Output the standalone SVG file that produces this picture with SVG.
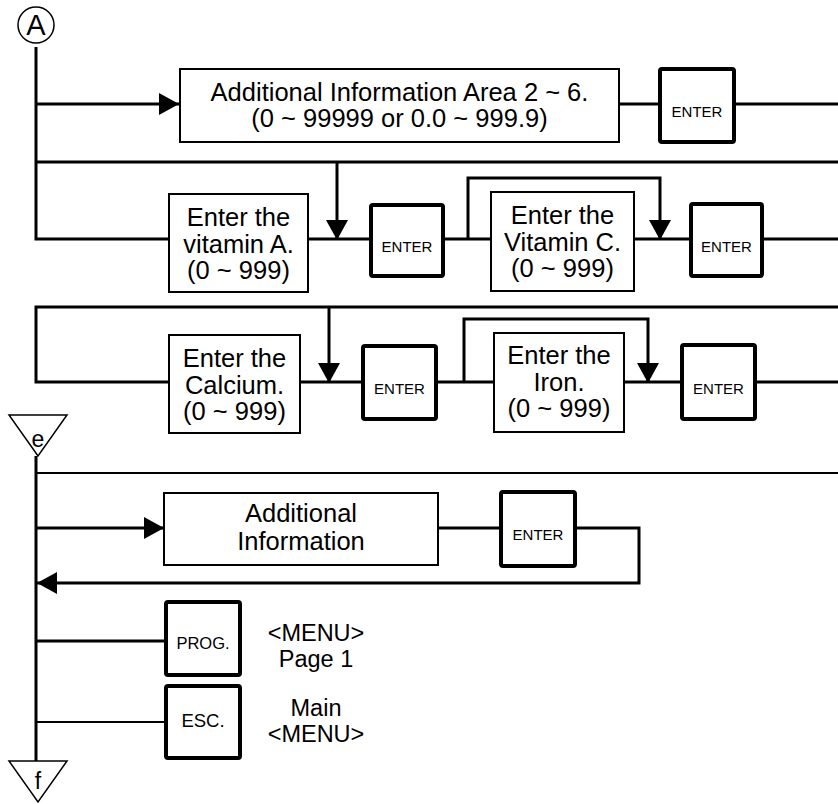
<svg xmlns="http://www.w3.org/2000/svg" width="838" height="804" viewBox="0 0 838 804">
<style>
  .bg { fill: #ffffff; }
  .box { fill: #ffffff; stroke: #000; stroke-width: 2; }
  .key { fill: #ffffff; stroke: #000; stroke-width: 4; }
  .ln { fill: none; stroke: #000; stroke-width: 3; }
  .thin { fill: none; stroke: #000; stroke-width: 2; }
  .sym { fill: #ffffff; stroke: #000; stroke-width: 1.5; }
  text { font-family: "Liberation Sans", Arial, sans-serif; fill: #000; text-anchor: middle; }
  .t { font-size: 25.5px; }
  .m { font-size: 23.5px; }
  .k { font-size: 15px; }
</style>
<defs>
  <marker id="ah" viewBox="0 0 20 22" markerUnits="userSpaceOnUse" markerWidth="20" markerHeight="22" refX="20" refY="11" orient="auto">
    <path d="M0,0 L20,11 L0,22 Z" fill="#000"/>
  </marker>
</defs>
<rect class="bg" x="0" y="0" width="838" height="804"/>

<g id="connectors">
  <path class="ln" d="M36,47 V239 H169"/>
  <path class="ln" d="M36,104 H179" marker-end="url(#ah)"/>
  <path class="ln" d="M619,104 H660"/>
  <path class="ln" d="M734,104 H838"/>
  <path class="ln" d="M36,162 H838"/>
  <path class="ln" d="M337,162 V240" marker-end="url(#ah)"/>
  <path class="ln" d="M308,239 H371"/>
  <path class="ln" d="M443,239 H491"/>
  <path class="ln" d="M468,239 V178 H660 V240" marker-end="url(#ah)"/>
  <path class="ln" d="M634,239 H691"/>
  <path class="ln" d="M762,239 H838"/>
  <path class="ln" d="M838,307 H36 V382 H169"/>
  <path class="ln" d="M329,307 V383" marker-end="url(#ah)"/>
  <path class="ln" d="M300,382 H363"/>
  <path class="ln" d="M436,382 H494"/>
  <path class="ln" d="M464,382 V319 H648 V383" marker-end="url(#ah)"/>
  <path class="ln" d="M624,382 H682"/>
  <path class="ln" d="M755,382 H838"/>
  <path class="ln" d="M36,456 V761"/>
  <path class="thin" d="M36,473 H838"/>
  <path class="ln" d="M36,528 H164" marker-end="url(#ah)"/>
  <path class="ln" d="M438,528 H501"/>
  <path class="ln" d="M575,528 H639 V583 H37" marker-end="url(#ah)"/>
  <path class="ln" d="M36,641 H166"/>
  <path class="thin" d="M36,722 H166"/>
</g>

<g id="start-A">
  <circle class="sym" cx="36" cy="25" r="18"/>
  <text x="36" y="34.5" style="font-size:29px">A</text>
</g>

<g id="area-box">
  <rect class="box" x="180" y="69" width="439" height="73"/>
  <text class="t" x="399.5" y="101">Additional Information Area 2 ~ 6.</text>
  <text class="t" x="399.5" y="127">(0 ~ 99999 or 0.0 ~ 999.9)</text>
</g>
<g id="enter-1">
  <rect class="key" x="660" y="69" width="74" height="73" rx="2"/>
  <text class="k" x="697" y="117">ENTER</text>
</g>

<g id="vitA-box">
  <rect class="box" x="169" y="194" width="139" height="98"/>
  <text class="t" x="238.5" y="226">Enter the</text>
  <text class="t" x="238.5" y="253">vitamin A.</text>
  <text class="t" x="238.5" y="279">(0 ~ 999)</text>
</g>
<g id="enter-2">
  <rect class="key" x="371" y="205" width="72" height="71" rx="2"/>
  <text class="k" x="407" y="252">ENTER</text>
</g>
<g id="vitC-box">
  <rect class="box" x="491" y="192" width="143" height="99"/>
  <text class="t" x="562.5" y="224">Enter the</text>
  <text class="t" x="562.5" y="251">Vitamin C.</text>
  <text class="t" x="562.5" y="277">(0 ~ 999)</text>
</g>
<g id="enter-3">
  <rect class="key" x="691" y="204" width="71" height="72" rx="2"/>
  <text class="k" x="726.5" y="252">ENTER</text>
</g>

<g id="calcium-box">
  <rect class="box" x="169" y="335" width="131" height="98"/>
  <text class="t" x="234.5" y="367">Enter the</text>
  <text class="t" x="234.5" y="394">Calcium.</text>
  <text class="t" x="234.5" y="420">(0 ~ 999)</text>
</g>
<g id="enter-4">
  <rect class="key" x="363" y="346" width="73" height="73" rx="2"/>
  <text class="k" x="399.5" y="394">ENTER</text>
</g>
<g id="iron-box">
  <rect class="box" x="494" y="333" width="130" height="99"/>
  <text class="t" x="559" y="364">Enter the</text>
  <text class="t" x="559" y="391">Iron.</text>
  <text class="t" x="559" y="417">(0 ~ 999)</text>
</g>
<g id="enter-5">
  <rect class="key" x="682" y="345" width="73" height="74" rx="2"/>
  <text class="k" x="718.5" y="394">ENTER</text>
</g>

<g id="connector-e">
  <path class="sym" d="M9,415 H67 L38,456 Z"/>
  <text x="38" y="447" style="font-size:23px">e</text>
</g>

<g id="addinfo-box">
  <rect class="box" x="164" y="493" width="274" height="72"/>
  <text class="t" x="301" y="522">Additional</text>
  <text class="t" x="301" y="550">Information</text>
</g>
<g id="enter-6">
  <rect class="key" x="501" y="492" width="74" height="74" rx="2"/>
  <text class="k" x="538" y="540">ENTER</text>
</g>

<g id="prog-key">
  <rect class="key" x="166" y="602" width="74" height="73" rx="2"/>
  <text x="203" y="649" style="font-size:16.5px">PROG.</text>
</g>
<g id="prog-label">
  <text class="m" x="316" y="641">&lt;MENU&gt;</text>
  <text class="m" x="316" y="667">Page 1</text>
</g>

<g id="esc-key">
  <rect class="key" x="166" y="686" width="74" height="72" rx="2"/>
  <text x="203" y="727" style="font-size:18.5px">ESC.</text>
</g>
<g id="esc-label">
  <text class="m" x="316" y="716">Main</text>
  <text class="m" x="316" y="742">&lt;MENU&gt;</text>
</g>

<g id="connector-f">
  <path class="sym" d="M9,761 H67 L38,802 Z"/>
  <text x="38" y="789" style="font-size:23px">f</text>
</g>
</svg>
